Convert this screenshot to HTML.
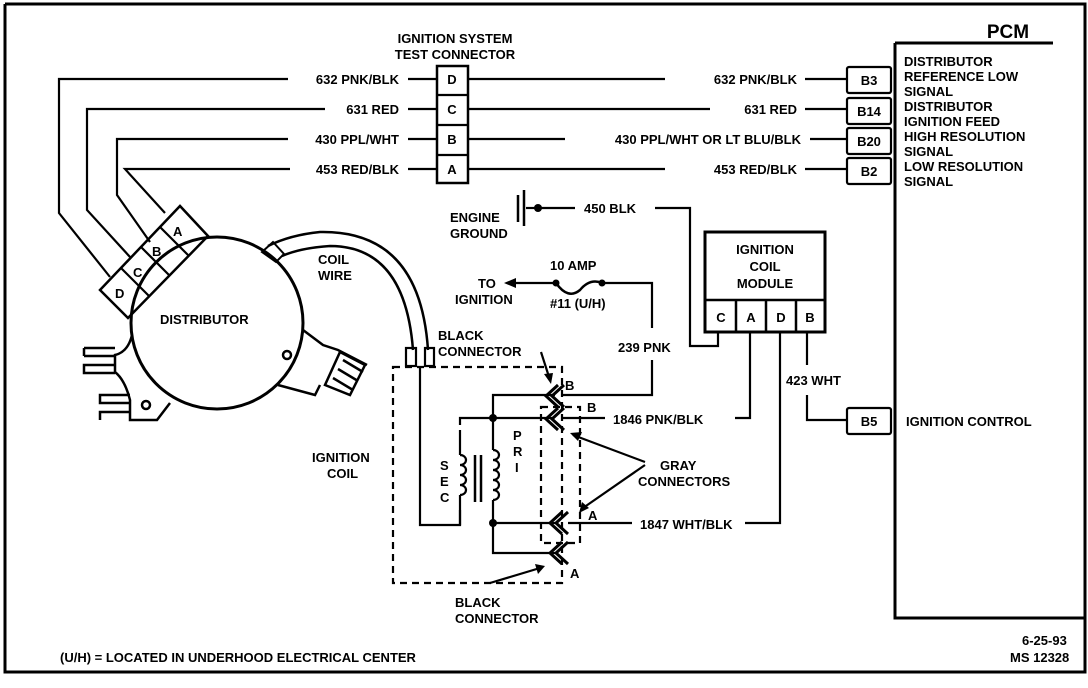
<!DOCTYPE html>
<html><head><meta charset="utf-8"><style>
html,body{margin:0;padding:0;background:#fff}
svg{display:block}
text{font-family:"Liberation Sans",sans-serif;font-weight:bold;fill:#000}
</style></head><body>
<svg width="1088" height="688" viewBox="0 0 1088 688" xmlns="http://www.w3.org/2000/svg" font-size="13">
<g fill="none" stroke="#000" stroke-width="2.2">
<path d="M5,4 V672 H1085 V4 H5" stroke-width="3"/>
<path d="M895,43 H1053" stroke-width="3"/>
<path d="M895,43 V618 H1085" stroke-width="3"/>
<rect x="437" y="66" width="31" height="117" stroke-width="2.5"/>
<path d="M437,95 H468 M437,125 H468 M437,155 H468"/>
<rect x="847" y="67" width="44" height="26" rx="2"/>
<rect x="847" y="98" width="44" height="26" rx="2"/>
<rect x="847" y="128" width="44" height="26" rx="2"/>
<rect x="847" y="158" width="44" height="26" rx="2"/>
<rect x="847" y="408" width="44" height="26" rx="2"/>
<path d="M288,79 H59 V213 L110,277"/>
<path d="M325,109 H87 V210 L130,257"/>
<path d="M288,139 H117 V195 L150,242"/>
<path d="M290,169 H125 L165,213"/>
<path d="M408,79 H437 M408,109 H437 M408,139 H437 M408,169 H437"/>
<path d="M468,79 H665 M805,79 H847"/>
<path d="M468,109 H710 M805,109 H847"/>
<path d="M468,139 H565 M810,139 H847"/>
<path d="M468,169 H665 M805,169 H847"/>
<polygon points="100,290 180,206 208,236 128,318" stroke-width="2.5"/>
<path d="M121,268 L149,296 M141,247 L169,275 M160,227 L188,255"/>
<circle cx="217" cy="323" r="86" stroke-width="3"/>
<path d="M132,335 Q128,352 115,355 V372 Q125,380 130,400 V420 H157 L170,403" stroke-width="2.5"/>
<path d="M115,348 H84 M115,356 H84 M84,348 V356 M115,365 H84 V373 H115" stroke-width="2.5"/>
<path d="M130,395 H100 V403 H130 M130,412 H100 V420" stroke-width="2.5"/>
<circle cx="146" cy="405" r="4" stroke-width="2.5"/>
<circle cx="287" cy="355" r="4" stroke-width="2.5"/>
<path d="M303,330 L323,345 L338,350 L367,365 M278,385 L315,395 L320,385" stroke-width="2.5"/>
<path d="M340,352 L365,365 L350,395 L325,385 Z" stroke-width="2.5"/>
<path d="M343,360 L363,372 M338,369 L358,381 M333,378 L353,390" stroke-width="2.5"/>
<path d="M268,246 Q290,235 320,232 Q420,230 428,350" stroke-width="2.5"/>
<path d="M282,256 Q300,248 330,246 Q405,246 413,350" stroke-width="2.5"/>
<path d="M262,252 L273,242 L284,254 L276,262 Z" stroke-width="2"/>
<rect x="406" y="348" width="10" height="18"/>
<rect x="425" y="348" width="9" height="18"/>
<rect x="393" y="367" width="169" height="216" stroke-dasharray="7,5"/>
<rect x="541" y="407" width="39" height="136" stroke-dasharray="7,5"/>
<path d="M420,366 V525 H460 V510"/>
<path d="M460,425 V418 H553"/>
<path d="M493,418 V395 H555"/>
<path d="M493,418 V450 M493,500 V553 H555"/>
<path d="M493,523 H555"/>
<path d="M460,430 V455 M460,495 V525"/>
<path d="M460,455 a6,5 0 0,1 0,10 a6,5 0 0,1 0,10 a6,5 0 0,1 0,10 a6,5 0 0,1 0,10"/>
<path d="M493,450 a6,5 0 0,1 0,10 a6,5 0 0,1 0,10 a6,5 0 0,1 0,10 a6,5 0 0,1 0,10 a6,5 0 0,1 0,10"/>
<path d="M475,455 V502 M481,455 V502" stroke-width="2.5"/>
<path d="M558,385 L546,396 L558,407 M564,385 L552,396 L564,407" stroke-width="3"/>
<path d="M558,408 L546,419 L558,430 M564,408 L552,419 L564,430" stroke-width="3"/>
<path d="M562,512 L550,523 L562,534 M568,512 L556,523 L568,534" stroke-width="3"/>
<path d="M562,542 L550,553 L562,564 M568,542 L556,553 L568,564" stroke-width="3"/>
<path d="M562,395 H652 V360 M652,328 V283 H602"/>
<path d="M562,418 H605 M735,418 H750 V332"/>
<path d="M568,523 H632 M745,523 H780 V332"/>
<path d="M807,332 V365 M807,395 V420 H847"/>
<path d="M655,208 H690 V346 H718 V332"/>
<path d="M536,208 H575"/>
<path d="M518,195 V222 M524,190 V226" stroke-width="2.5"/>
<path d="M526,208 H536"/>
<path d="M556,283 Q568,300 580,290 Q590,278 602,283" stroke-width="2.5"/>
<path d="M556,283 H510"/>
<rect x="705" y="232" width="120" height="100" stroke-width="3"/>
<path d="M705,300 H825 M736,300 V332 M766,300 V332 M796,300 V332" stroke-width="2.5"/>
<path d="M541,352 L550,380" /><path d="M645,462 L573,435 M645,465 L583,508"/>
<path d="M490,583 L540,568"/>
</g>
<g fill="#000">
<circle cx="493" cy="418" r="4"/><circle cx="493" cy="523" r="4"/>
<circle cx="538" cy="208" r="4"/><circle cx="556" cy="283" r="3.5"/><circle cx="602" cy="283" r="3.5"/>
<polygon points="504,283 516,278 516,288"/>
<polygon points="551,384 544,374 553,373"/>
<polygon points="570,433 582,432 578,441"/>
<polygon points="579,513 582,502 589,508"/>
<polygon points="545,566 535,564 538,574"/>
</g>
<text x="1008" y="38" font-size="19" text-anchor="middle">PCM</text>
<text x="455" y="43" text-anchor="middle">IGNITION SYSTEM</text>
<text x="455" y="59" text-anchor="middle">TEST CONNECTOR</text>
<g text-anchor="middle">
<text x="452" y="84">D</text><text x="452" y="114">C</text><text x="452" y="144">B</text><text x="452" y="174">A</text>
<text x="869" y="85">B3</text><text x="869" y="116">B14</text><text x="869" y="146">B20</text><text x="869" y="176">B2</text><text x="869" y="426">B5</text>
<text x="721" y="322">C</text><text x="751" y="322">A</text><text x="781" y="322">D</text><text x="810" y="322">B</text>
</g>
<g text-anchor="end">
<text x="399" y="84">632 PNK/BLK</text><text x="399" y="114">631 RED</text><text x="399" y="144">430 PPL/WHT</text><text x="399" y="174">453 RED/BLK</text>
<text x="797" y="84">632 PNK/BLK</text><text x="797" y="114">631 RED</text><text x="801" y="144">430 PPL/WHT OR LT BLU/BLK</text><text x="797" y="174">453 RED/BLK</text>
</g>
<g>
<text x="904" y="66">DISTRIBUTOR</text><text x="904" y="81">REFERENCE LOW</text><text x="904" y="96">SIGNAL</text>
<text x="904" y="111">DISTRIBUTOR</text><text x="904" y="126">IGNITION FEED</text><text x="904" y="141">HIGH RESOLUTION</text><text x="904" y="156">SIGNAL</text>
<text x="904" y="171">LOW RESOLUTION</text><text x="904" y="186">SIGNAL</text>
<text x="906" y="426">IGNITION CONTROL</text>
<text x="765" y="254" text-anchor="middle">IGNITION</text><text x="765" y="271" text-anchor="middle">COIL</text><text x="765" y="288" text-anchor="middle">MODULE</text>
<text x="584" y="213">450 BLK</text>
<text x="450" y="222">ENGINE</text><text x="450" y="238">GROUND</text>
<text x="550" y="270">10 AMP</text>
<text x="478" y="288">TO</text><text x="455" y="304">IGNITION</text>
<text x="550" y="308">#11 (U/H)</text>
<text x="618" y="352">239 PNK</text>
<text x="786" y="385">423 WHT</text>
<text x="613" y="424">1846 PNK/BLK</text>
<text x="640" y="529">1847 WHT/BLK</text>
<text x="660" y="470">GRAY</text><text x="638" y="486">CONNECTORS</text>
<text x="438" y="340">BLACK</text><text x="438" y="356">CONNECTOR</text>
<text x="565" y="390">B</text><text x="587" y="412">B</text><text x="588" y="520">A</text><text x="570" y="578">A</text>
<text x="455" y="607">BLACK</text><text x="455" y="623">CONNECTOR</text>
<text x="312" y="462">IGNITION</text><text x="327" y="478">COIL</text>
<text x="318" y="264">COIL</text><text x="318" y="280">WIRE</text>
<text x="160" y="324">DISTRIBUTOR</text>
<text x="60" y="662">(U/H) = LOCATED IN UNDERHOOD ELECTRICAL CENTER</text>
<text x="1022" y="645">6-25-93</text><text x="1010" y="662">MS 12328</text>
<text x="440" y="470">S</text><text x="440" y="486">E</text><text x="440" y="502">C</text>
<text x="513" y="440">P</text><text x="513" y="456">R</text><text x="515" y="472">I</text>
</g>
<text x="115" y="298">D</text>
<text x="133" y="277">C</text>
<text x="152" y="256">B</text>
<text x="173" y="236">A</text>
</svg>
</body></html>
